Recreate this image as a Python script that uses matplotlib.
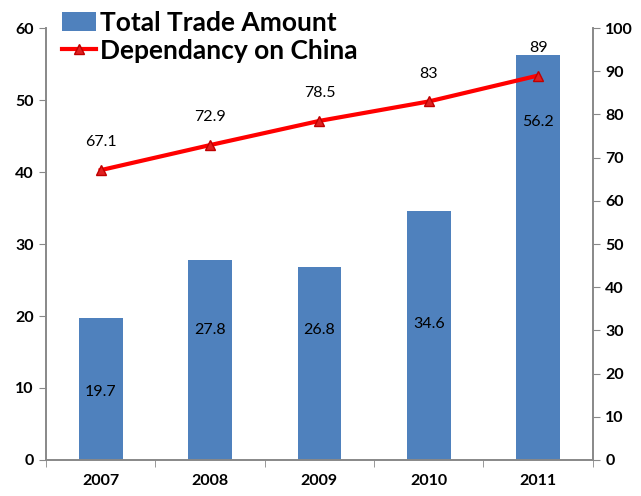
import matplotlib
matplotlib.use("Agg")
import matplotlib.pyplot as plt
from matplotlib.lines import Line2D
from matplotlib.patches import Patch

years = ["2007", "2008", "2009", "2010", "2011"]
trade = [19.7, 27.8, 26.8, 34.6, 56.2]
dependency = [67.1, 72.9, 78.5, 83, 89]
left_ticks = [0, 10, 20, 30, 40, 50, 60]
right_ticks = [0, 10, 20, 30, 40, 50, 60, 70, 80, 90, 100]

# label placement (left-axis units) for bar value labels
bar_label_y = [9.4, 18.1, 18.1, 18.9, 46.9]

plt.rcParams['font.family'] = ['Lato', 'DejaVu Sans']

fig = plt.figure(figsize=(6.41, 4.96), dpi=100)
ax = fig.add_axes([0.0718, 0.0726, 0.853, 0.8709])
ax2 = ax.twinx()

x = list(range(len(years)))
bar_color = "#4F81BD"
ax.bar(x, trade, width=0.4, color=bar_color, zorder=2)
ax.set_ylim(0, 60)
ax.set_xlim(-0.5, len(years) - 0.5)
ax.set_yticks(left_ticks)
ax.set_xticks(x)
ax.set_xticklabels(years)
ax.set_xticks([i - 0.5 for i in range(len(years) + 1)], minor=True)
ax.tick_params(axis='x', which='major', length=0, pad=10, labelsize=11.5)
ax.tick_params(axis='x', which='minor', length=5, color="#888888", direction='out')
ax.tick_params(axis='y', length=5, color="#888888", labelsize=11.5, pad=4)
for lab in ax.get_xticklabels() + ax.get_yticklabels():
    lab.set_fontweight('bold')

for i, (v, ly) in enumerate(zip(trade, bar_label_y)):
    ax.text(i, ly, f"{v}", ha='center', va='center', fontsize=11.5, color="black", zorder=5)

ax2.plot(x, dependency, color="#FF0000", linewidth=3, marker='^', markersize=7,
         markerfacecolor="#E02020", markeredgecolor="#C00000", zorder=4)
ax2.set_ylim(0, 100)
ax2.set_yticks(right_ticks)
ax2.tick_params(axis='y', length=5, color="#888888", labelsize=11.5, pad=4)
for lab in ax2.get_yticklabels():
    lab.set_fontweight('bold')
for i, v in enumerate(dependency):
    ax2.annotate(f"{v:g}", (i, v), xytext=(0, 15), textcoords='offset points',
                 ha='center', va='bottom', fontsize=11.5)

for a in (ax, ax2):
    a.spines['top'].set_visible(False)
    for s in ('left', 'right', 'bottom'):
        a.spines[s].set_color("#888888")
        a.spines[s].set_linewidth(1.2)

handles = [Patch(facecolor=bar_color, edgecolor='none'),
           Line2D([0], [0], color="#FF0000", lw=3, marker='^', markersize=7,
                  markerfacecolor="#E02020", markeredgecolor="#C00000")]
fig.legend(handles, ["Total Trade Amount", "Dependancy on China"],
           loc='upper left', bbox_to_anchor=(0.08, 1.0), frameon=False,
           prop={'size': 19, 'weight': 'bold'}, handlelength=1.3,
           handletextpad=0.15, labelspacing=0.15, borderaxespad=0)

fig.savefig("out.png", dpi=100)
